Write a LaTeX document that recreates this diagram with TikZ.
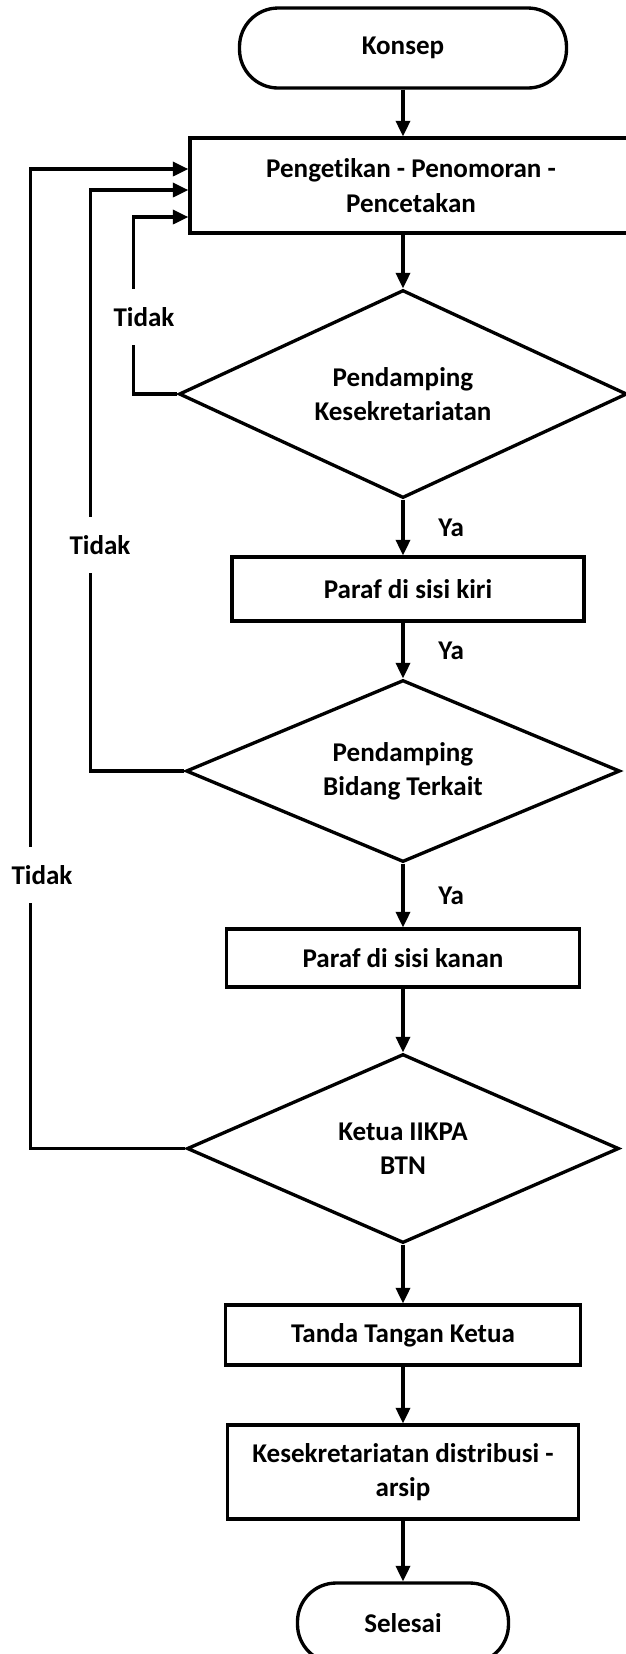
\documentclass[tikz,border=0pt]{standalone}
\usepackage{fontspec}
\setmainfont[Ligatures=NoCommon]{Carlito}
\usetikzlibrary{arrows.meta,shapes.geometric}

\begin{document}
\begin{tikzpicture}[x=0.1mm,y=-0.1mm,
	font=\fontsize{7.7}{9.8}\selectfont\bfseries,
	proses/.style={rectangle,draw,line width=0.95pt,align=center,inner sep=0pt},
	terminal/.style={rectangle,rounded corners=11pt,draw,line width=0.95pt,inner sep=0pt},
	keputusan/.style={diamond,aspect=2.2,draw,line width=0.95pt,align=center,inner sep=0pt},
	panah/.style={->,>={Triangle[length=4.4pt,width=4pt]},line width=0.95pt},
	ya/.style={midway,right=2.2mm},
	tidak/.style={fill=white,inner sep=0pt,minimum width=6mm,minimum height=5.6mm}]
				\useasboundingbox (0,0) rectangle (626,1654);
				\node(konsep) at (403,48)[terminal,minimum width=32.7mm,minimum height=8mm]{Konsep};
				\node(ketik) at (411,185.5)[proses,minimum width=44.2mm,minimum height=9.5mm]{Pengetikan - Penomoran -\\Pencetakan};
				\node(dKes) at (403,394)[keputusan,minimum width=44.8mm,minimum height=20.8mm]{Pendamping\\Kesekretariatan};
				\node(kiri) at (408,589)[proses,minimum width=35.2mm,minimum height=6.4mm]{Paraf di sisi kiri};
				\node(dBid) at (403,771)[keputusan,minimum width=43.4mm,minimum height=18.2mm]{Pendamping\\Bidang Terkait};
				\node(kanan) at (403,958)[proses,minimum width=35.3mm,minimum height=5.8mm]{Paraf di sisi kanan};
				\node(dKetua) at (403,1148.5)[keputusan,minimum width=43.2mm,minimum height=18.9mm]{Ketua IIKPA\\BTN};
				\node(ttd) at (403,1335)[proses,minimum width=35.5mm,minimum height=6mm]{Tanda Tangan Ketua};
				\node(dist) at (403,1472)[proses,minimum width=35.1mm,minimum height=9.4mm]{Kesekretariatan distribusi -\\arsip};
				\node(selesai) at (403,1623)[terminal,minimum width=21.1mm,minimum height=8mm]{Selesai};
%alur utama
				\draw[panah] (konsep) -- (konsep |- ketik.north);
				\draw[panah] (dKes |- ketik.south) -- (dKes);
				\draw[panah] (dKes) -- (dKes |- kiri.north) node[ya]{Ya};
				\draw[panah] (dBid |- kiri.south) -- (dBid) node[ya]{Ya};
				\draw[panah] (dBid) -- (kanan) node[ya]{Ya};
				\draw[panah] (kanan) -- (dKetua);
				\draw[panah] (dKetua) -- (ttd);
				\draw[panah] (ttd) -- (dist);
				\draw[panah] (dist) -- (selesai);
%kembali
				\draw[panah] (dKes.west) -- ++(-44,0) |- ([yshift=-3.15mm]ketik.west);
				\draw[panah] (dBid.west) -- ++(-94,0) |- ([yshift=-0.45mm]ketik.west);
				\draw[panah] (dKetua.west) -- ++(-155,0) |- ([yshift=1.65mm]ketik.west);
				\node(t1) at (144,317)[tidak]{Tidak};
				\node(t2) at (100,545)[tidak]{Tidak};
				\node(t3) at (42,875)[tidak]{Tidak};
			\end{tikzpicture}
\end{document}
